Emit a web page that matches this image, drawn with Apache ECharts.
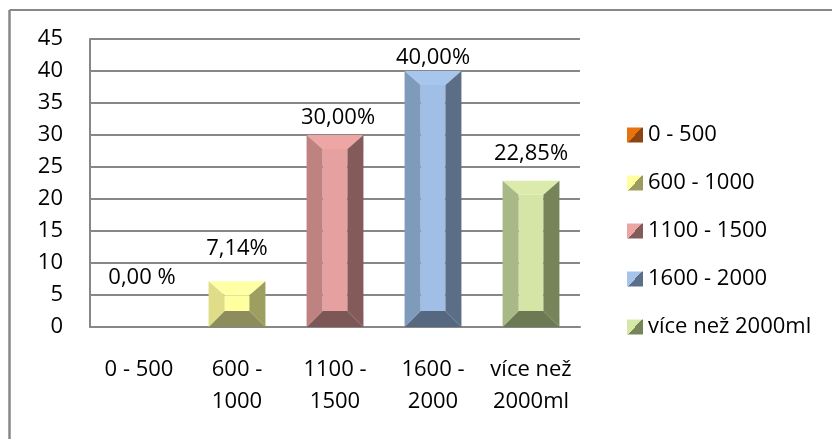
<!DOCTYPE html>
<html>
<head>
<meta charset="utf-8">
<script src="https://cdn.jsdelivr.net/npm/echarts@6/dist/echarts.min.js"></script>
<style>
  html, body { margin: 0; padding: 0; background: #fff; }
  #chart { width: 832px; height: 439px; }
</style>
</head>
<body>
<div id="chart"></div>
<script>
// Volume ranges (legend names) and their wrapped axis labels
const categories = ['0 - 500', '600 - 1000', '1100 - 1500', '1600 - 2000', 'více než 2000ml'];
const axisLabels = ['0 - 500', '600 -\n1000', '1100 -\n1500', '1600 -\n2000', 'více než\n2000ml'];
// Share of respondents per range, in percent
const values = [0, 7.14, 30, 40, 22.85];
const valueLabels = ['0,00 %', '7,14%', '30,00%', '40,00%', '22,85%'];
// Value axis ticks
const yMin = 0, yMax = 45, yStep = 5;

// Bevel shades per series: face, top, left, right, bottom
const shades = [
  { face: '#F79646', top: '#F9A05A', left: '#E46C0A', right: '#9C4A0A', bottom: '#8A4512', light: '#E8720C', dark: '#8B4513' },
  { face: '#FFFF9F', top: '#FFFFA6', left: '#DFDD88', right: '#9E9E61', bottom: '#8D8C5C', light: '#FFFFA0', dark: '#9D9C60' },
  { face: '#E6A09F', top: '#EDA6A4', left: '#BE8281', right: '#845B5A', bottom: '#7C5756', light: '#EBA6A4', dark: '#835B5A' },
  { face: '#A1BFE6', top: '#A7C6EE', left: '#7F9BBC', right: '#5B6D87', bottom: '#56687F', light: '#A5C3EB', dark: '#5B6F8A' },
  { face: '#D5E5A6', top: '#DAEBAB', left: '#A8B987', right: '#768459', bottom: '#6D7953', light: '#D6E8A7', dark: '#76845A' }
];
// Where each value label sits relative to the top of its bar (px)
const labelShift = [[3, -49], [0, -33], [3, -17], [0, -13], [0, -27]];

const FONT = '"Open Sans", Lato, sans-serif';
const FONT_SIZE = 22;
const GRID_GREY = '#878787';

function diagGradient(light, dark) {
  return {
    type: 'linear', x: 0, y: 0, x2: 1, y2: 1,
    colorStops: [
      { offset: 0, color: light }, { offset: 0.5, color: light },
      { offset: 0.5, color: dark }, { offset: 1, color: dark }
    ]
  };
}

function bevelBar(params, api) {
  const idx = api.value(0);
  const val = api.value(1);
  const topPt = api.coord([idx, val]);
  const basePt = api.coord([idx, 0]);
  const w = api.size([1, 0])[0] * 0.58;
  const x0 = topPt[0] - w / 2, x1 = topPt[0] + w / 2;
  const y0 = topPt[1], y1 = basePt[1];
  const h = y1 - y0;
  const s = shades[params.seriesIndex];
  const children = [];
  if (h > 0.5) {
    const bx = Math.min(16, w / 2);
    const byT = Math.min(14, h / 2), byB = Math.min(16, h / 2);
    const poly = (pts, fill) => ({ type: 'polygon', shape: { points: pts }, style: { fill: fill } });
    children.push(
      { type: 'rect', shape: { x: x0 + bx, y: y0 + byT, width: w - 2 * bx, height: h - byT - byB }, style: { fill: s.face } },
      poly([[x0, y0], [x1, y0], [x1 - bx, y0 + byT], [x0 + bx, y0 + byT]], s.top),
      poly([[x0, y1], [x1, y1], [x1 - bx, y1 - byB], [x0 + bx, y1 - byB]], s.bottom),
      poly([[x0, y0], [x0 + bx, y0 + byT], [x0 + bx, y1 - byB], [x0, y1]], s.left),
      poly([[x1, y0], [x1 - bx, y0 + byT], [x1 - bx, y1 - byB], [x1, y1]], s.right)
    );
  }
  const shift = labelShift[params.seriesIndex];
  children.push({
    type: 'text',
    style: {
      text: valueLabels[idx],
      x: topPt[0] + shift[0], y: y0 + shift[1],
      align: 'center', verticalAlign: 'middle',
      font: FONT_SIZE + 'px ' + FONT, fill: '#000'
    }
  });
  return { type: 'group', children: children };
}

const series = categories.map((name, i) => ({
  name: name,
  type: 'custom',
  renderItem: bevelBar,
  encode: { x: 0, y: 1 },
  itemStyle: { color: shades[i].face },
  data: [[i, values[i]]]
}));

const legendText = { fontFamily: FONT, fontSize: FONT_SIZE, color: '#000' };

const chart = echarts.init(document.getElementById('chart'));
chart.setOption({
  animation: false,
  backgroundColor: '#fff',
  textStyle: { fontFamily: FONT },
  // Chart-area frame: top and left edges inside the window
  graphic: [
    { type: 'line', silent: true, shape: { x1: 9.5, y1: 10, x2: 832, y2: 10 }, style: { stroke: GRID_GREY, lineWidth: 2 } },
    { type: 'line', silent: true, shape: { x1: 9.5, y1: 10, x2: 9.5, y2: 439 }, style: { stroke: GRID_GREY, lineWidth: 2.5 } }
  ],
  grid: { left: 90, top: 39, right: 252, bottom: 112 },
  legend: {
    orient: 'vertical',
    left: 622, top: 119,
    itemWidth: 16, itemHeight: 15, itemGap: 26,
    selectedMode: false,
    icon: 'rect',
    textStyle: legendText,
    data: categories.map((name, i) => ({
      name: name,
      itemStyle: { color: diagGradient(shades[i].light, shades[i].dark) }
    }))
  },
  xAxis: {
    type: 'category',
    data: axisLabels,
    axisTick: { show: false },
    axisLine: { show: true, lineStyle: { color: GRID_GREY, width: 2 } },
    axisLabel: { interval: 0, margin: 27, color: '#000', fontFamily: FONT, fontSize: FONT_SIZE, lineHeight: 32 }
  },
  yAxis: {
    type: 'value',
    min: yMin, max: yMax, interval: yStep,
    axisTick: { show: false },
    axisLine: { show: true, lineStyle: { color: GRID_GREY, width: 2 } },
    splitLine: { show: true, lineStyle: { color: GRID_GREY, width: 2 } },
    axisLabel: { margin: 27, color: '#000', fontFamily: FONT, fontSize: FONT_SIZE }
  },
  series: series
});
</script>
</body>
</html>
